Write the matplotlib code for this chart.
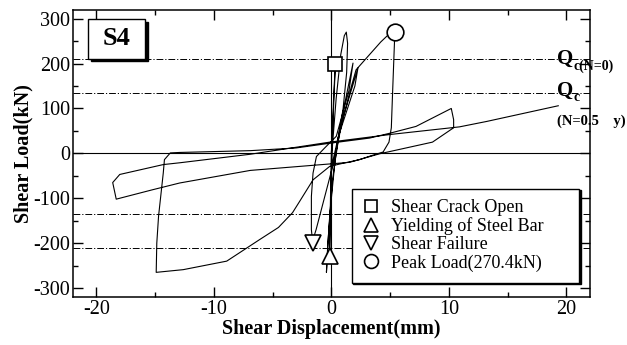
import matplotlib
matplotlib.use('Agg')
import matplotlib.pyplot as plt
from matplotlib.lines import Line2D
from matplotlib.patches import Rectangle
import numpy as np

plt.rcParams['font.family'] = ['Liberation Serif', 'DejaVu Serif']
plt.rcParams['axes.unicode_minus'] = False

# Hysteresis loop: shear displacement (mm) vs shear load (kN)
disp = [0.0, 0.1, 0.2, 0.34, 0.25, 0.1, 0.0, -0.05, -0.1, -0.15, -0.1, 0.0,
        0.1, 0.4, 0.8, 1.1, 1.27, 1.38, 1.3, 1.0, 0.5, 0.1, -0.2, -0.42,
        -0.3, 0.0, 0.3, 0.9, 1.84, 1.5, 0.42, -0.57, -1.27, -1.56, -1.7,
        -1.7, -1.6, -1.3, -0.6, 0.2, 1.0, 2.26, 2.0, 0.6, 0.1, 0.3,
        0.7, 1.27, 1.7, 2.1, 3.25, 4.2, 4.8, 5.4,
        5.3, 5.2, 5.1, 4.9, 4.4, 3.3, 2.4, 1.0, -0.14, -1.56, -2.7, -3.3,
        -4.5, -6.1, -8.9, -12.6, -14.9,
        -14.85, -14.7, -14.3, -14.2, -13.7, -12.9, -6.9, -3.0, 0.0, 3.25,
        5.0, 7.2, 10.2, 10.4, 10.4, 8.6, 4.1, 1.55, -6.9, -12.9, -15.2,
        -18.3, -18.6, -18.0, -14.3, -12.9, -6.9, -0.14, 5.0, 10.9, 13.2,
        19.3]
load = [0, 60, 130, 200, 140, 50, 0, -60, -140, -228, -150, -50,
        20, 120, 220, 262, 270, 245, 180, 100, 20, -60, -160, -265,
        -200, -100, -20, 80, 201, 140, 38, 12, -7, -44, -96,
        -170, -195, -170, -100, -20, 80, 190, 150, 38, -20, -10,
        53, 105, 149, 186, 220, 248, 263, 270,
        200, 130, 57, 25, 3, -6, -14, -22, -29, -59, -107, -132,
        -165, -192, -240, -259, -265,
        -200, -140, -44, -14, 1, 2, 6, 12, 23, 34,
        45, 60, 100, 75, 57, 25, -1, -20, -38, -66, -81,
        -102, -65, -47, -25, -21, -2, 25, 42, 59, 71,
        106]

# Event points
crack_x, crack_y = [0.34], [200]
yield_x, yield_y = [-0.15], [-228]
fail_x, fail_y = [-1.6], [-200]
peak_x, peak_y = [5.4], [270.4]

qc0 = 210      # Qc (N=0)
qc05 = 135     # Qc (N=0.5 sigma_y)

fig = plt.figure(figsize=(6.27, 3.45), dpi=100)
ax = fig.add_axes([0.116, 0.139, 0.825, 0.833])

for q in (qc0, qc05, -qc05, -qc0):
    ax.axhline(q, color='black', lw=0.7, ls=(0, (7, 2, 1.2, 2)), zorder=1)
ax.axhline(0, color='black', lw=0.8, zorder=1)
ax.axvline(0, color='black', lw=0.8, zorder=1)

ax.plot(disp, load, color='black', lw=0.8, zorder=2)

mk = dict(ls='none', mfc='white', mec='black', mew=1.2, zorder=4)
ax.plot(crack_x, crack_y, marker='s', ms=10, **mk)
ax.plot(yield_x, yield_y, marker='^', ms=12, **mk)
ax.plot(fail_x, fail_y, marker='v', ms=12, **mk)
ax.plot(peak_x, peak_y, marker='o', ms=12, **mk)

ax.set_xlim(-22, 22)
ax.set_ylim(-320, 320)
ax.set_xticks([-20, -10, 0, 10, 20])
ax.set_xticks(np.arange(-20, 21, 5), minor=True)
ax.set_yticks([-300, -200, -100, 0, 100, 200, 300])
ax.set_yticks(np.arange(-300, 301, 50), minor=True)
ax.tick_params(which='both', direction='in', top=True, right=True, labelsize=14.5)
ax.tick_params(which='major', length=7, width=1, pad=2)
ax.tick_params(which='minor', length=3.5, width=1)
for s in ax.spines.values():
    s.set_linewidth(1.1)

ax.set_xlabel('Shear Displacement(mm)', fontsize=14.5, fontweight='bold', labelpad=0)
ax.set_ylabel('Shear Load(kN)', fontsize=14.5, fontweight='bold', labelpad=0)

# Qc labels on the right side: big Q with a smaller bold subscript
def q_label(y, sub):
    ax.text(19.2, y, 'Q', fontsize=15, fontweight='bold', ha='left',
            va='center', clip_on=False, zorder=5)
    ax.annotate(sub, xy=(19.2, y), xytext=(12, -5), textcoords='offset points',
                fontsize=10, fontweight='bold', ha='left', va='center',
                annotation_clip=False, zorder=5)

q_label(qc0, 'c(N=0)')
q_label(qc05 + 5, 'c')
ax.text(19.2, 72, '(N=0.5    y)', fontsize=10.5, fontweight='bold', ha='left',
        va='center', clip_on=False, zorder=5)

# Specimen tag with drop shadow
ax.add_patch(Rectangle((0.035, 0.82), 0.1108, 0.137, transform=ax.transAxes,
                       facecolor='black', edgecolor='black', zorder=5))
ax.add_patch(Rectangle((0.029, 0.830), 0.1108, 0.137, transform=ax.transAxes,
                       facecolor='white', edgecolor='black', lw=1, zorder=6))
ax.text(0.029 + 0.1108 / 2, 0.830 + 0.137 / 2, 'S4', transform=ax.transAxes,
        fontsize=19, fontweight='bold', ha='center', va='center', zorder=7)

handles = [
    Line2D([], [], marker='s', ms=9, **mk),
    Line2D([], [], marker='^', ms=10, **mk),
    Line2D([], [], marker='v', ms=10, **mk),
    Line2D([], [], marker='o', ms=10, **mk),
]
labels = ['Shear Crack Open', 'Yielding of Steel Bar', 'Shear Failure',
          'Peak Load(270.4kN)']
leg = ax.legend(handles, labels, loc='lower left',
                bbox_to_anchor=(0.539, 0.05, 0.44, 0.32), mode='expand',
                borderaxespad=0, fontsize=13, frameon=True, fancybox=False,
                framealpha=1, edgecolor='black', handlelength=1.0,
                handletextpad=0.6, labelspacing=0.06, borderpad=0.6,
                shadow={'color': 'black', 'alpha': 1, 'ox': 1, 'oy': -1})
leg.get_frame().set_linewidth(1)
leg.set_zorder(8)

fig.savefig('out.png', dpi=100)
